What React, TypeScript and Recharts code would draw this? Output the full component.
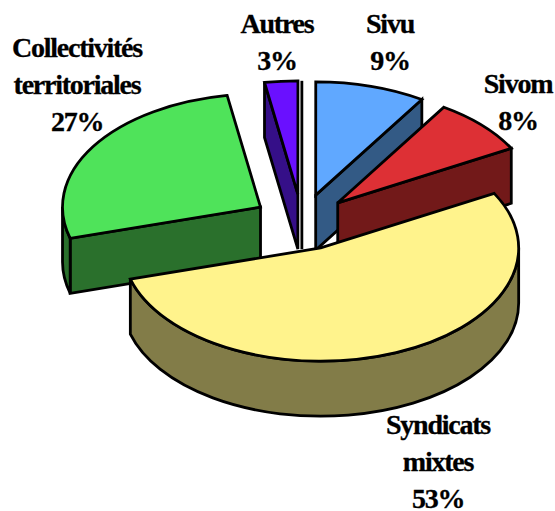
import { Pie, PieChart } from "recharts";

// order runs clockwise from Collectivités so that Syndicats mixtes paints last
const categories = ["Collectivités territoriales", "Autres", "Sivu", "Sivom", "Syndicats mixtes"];
const shares = [26.75, 2.7, 9, 8, 53.55];
const percentLabels = ["27%", "3%", "9%", "8%", "53%"];
const topColors = ["#4fe35a", "#6a10ff", "#60a8ff", "#dd3035", "#fff38c"];
const wallColors = ["#2a702c", "#350f88", "#335a85", "#721919", "#827c48"];

const chartData = categories.map((name, i) => ({
  name,
  value: shares[i],
  fill: topColors[i],
  wall: wallColors[i],
  percent_label: percentLabels[i],
}));

const FLATTEN = 0.572;
const DEPTH = 55;
const EXPLODE = 49;

const labelLayout: Record<string, { x: number; y: number; lines: string[] }> = {
  "Collectivités territoriales": { x: 77, y: 57, lines: ["Collectivités", "territoriales"] },
  Autres: { x: 277, y: 33, lines: ["Autres"] },
  Sivu: { x: 390, y: 33, lines: ["Sivu"] },
  Sivom: { x: 518, y: 93, lines: ["Sivom"] },
  "Syndicats mixtes": { x: 438, y: 434, lines: ["Syndicats", "mixtes"] },
};

const rad = (deg: number) => (deg * Math.PI) / 180;

function Slice3D(props: any) {
  const { cx, cy, outerRadius: rx, startAngle, endAngle, midAngle, fill, payload } = props;
  const ry = rx * FLATTEN;
  const ax = cx + EXPLODE * Math.cos(rad(midAngle));
  const ay = cy - EXPLODE * FLATTEN * Math.sin(rad(midAngle));

  // t is measured clockwise from twelve o'clock
  const t0 = ((90 - startAngle) % 360 + 360) % 360;
  const t1 = t0 + Math.abs(endAngle - startAngle);
  const rim = (t: number) => [ax + rx * Math.sin(rad(t)), ay - ry * Math.cos(rad(t))];
  const [sx, sy] = rim(t0);
  const [ex, ey] = rim(t1);
  const large = t1 - t0 > 180 ? 1 : 0;

  const stroke = { stroke: "#000", strokeWidth: 2.8, strokeLinejoin: "miter" as const };
  const wallOf = (px: number, py: number) =>
    `M${ax},${ay}L${px},${py}L${px},${py + DEPTH}L${ax},${ay + DEPTH}Z`;

  const v0 = Math.max(t0, 90);
  const v1 = Math.min(t1, 270);
  let outer = null;
  if (v1 > v0) {
    const [ox0, oy0] = rim(v0);
    const [ox1, oy1] = rim(v1);
    const big = v1 - v0 > 180 ? 1 : 0;
    outer = (
      <path
        d={`M${ox0},${oy0}A${rx},${ry} 0 ${big} 1 ${ox1},${oy1}L${ox1},${oy1 + DEPTH}A${rx},${ry} 0 ${big} 0 ${ox0},${oy0 + DEPTH}Z`}
        fill={payload.wall}
        {...stroke}
      />
    );
  }

  return (
    <g>
      {Math.abs(t1 - 360) < 0.1 && (
        <path d={`M${ax + 4},${ay - ry}L${ax + 4},${ay + DEPTH}`} fill="none" {...stroke} />
      )}
      {/* radial walls only show when they face the viewer */}
      {Math.sin(rad(t0)) < -0.01 && <path d={wallOf(sx, sy)} fill={payload.wall} {...stroke} />}
      {Math.sin(rad(t1)) > 0.01 && <path d={wallOf(ex, ey)} fill={payload.wall} {...stroke} />}
      {outer}
      <path d={`M${ax},${ay}L${sx},${sy}A${rx},${ry} 0 ${large} 1 ${ex},${ey}Z`} fill={fill} {...stroke} />
    </g>
  );
}

function SliceLabel(props: any) {
  const layout = labelLayout[props.name];
  const rows = [...layout.lines, props.payload.percent_label];
  return (
    <text
      textAnchor="middle"
      fontFamily="'Liberation Serif', serif"
      fontWeight="bold"
      fontSize={28}
      letterSpacing={-1.25}
      fill="#000"
      stroke="#000"
      strokeWidth={0.3}
    >
      {rows.map((row, i) => (
        <tspan key={row} x={layout.x} y={layout.y + i * 36.8}>
          {row}
        </tspan>
      ))}
    </text>
  );
}

export default function App() {
  return (
    <div style={{ position: "absolute", left: 0, top: 0, width: 555, height: 511 }}>
      <PieChart width={555} height={511} margin={{ top: 0, right: 0, bottom: 0, left: 0 }}>
        <Pie
          data={chartData}
          dataKey="value"
          nameKey="name"
          cx={302}
          cy={222}
          innerRadius={0}
          outerRadius={198}
          startAngle={-164}
          endAngle={-524}
          paddingAngle={0}
          shape={Slice3D}
          label={SliceLabel}
          labelLine={false}
          isAnimationActive={false}
        />
      </PieChart>
    </div>
  );
}
